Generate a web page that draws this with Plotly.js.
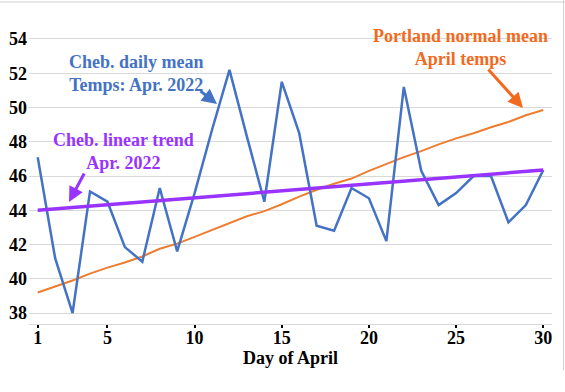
<!DOCTYPE html>
<html>
<head>
<meta charset="utf-8">
<script src="https://cdn.plot.ly/plotly-3.0.1.min.js"></script>
<style>html,body{margin:0;padding:0;background:#fff;}#chart{width:565px;height:392px;}</style>
</head>
<body>
<div id="chart"></div>
<script>
const days = [1,2,3,4,5,6,7,8,9,10,11,12,13,14,15,16,17,18,19,20,21,22,23,24,25,26,27,28,29,30];
const chebDaily = [47.1,41.2,38.0,45.1,44.5,41.85,41.0,45.3,41.6,45.0,48.7,52.2,48.3,44.5,51.5,48.5,43.1,42.8,45.3,44.7,42.2,51.2,46.3,44.3,45.0,46.0,46.0,43.3,44.3,46.35];
const portlandNormal = [39.2,39.55,39.9,40.3,40.65,40.95,41.3,41.75,42.05,42.45,42.85,43.25,43.65,43.95,44.35,44.8,45.2,45.55,45.85,46.3,46.7,47.1,47.45,47.85,48.2,48.5,48.85,49.15,49.55,49.85];
const trendDays = [1,30];
const chebTrend = [44.0,46.35];
const xTickVals = [1,5,10,15,20,25,30];
const xTickText = ['1','5','10','15','20','25','30'];
const yTickVals = [38,40,42,44,46,48,50,52,54];

const serif = 'Liberation Serif';
const blue = '#4472C4', orange = '#ED7D31', purple = '#9933FF', orangeText = '#F26A1E';

const traces = [
  {x: days, y: portlandNormal, mode: 'lines', line: {color: orange, width: 2}, hoverinfo: 'skip'},
  {x: days, y: chebDaily, mode: 'lines', line: {color: blue, width: 2.5}, hoverinfo: 'skip'},
  {x: trendDays, y: chebTrend, mode: 'lines', line: {color: purple, width: 3.5}, hoverinfo: 'skip'}
];

// plot area in pixels: left 29, right 552, top 15, bottom 324
const px = v => (v - 29) / 523;
const py = v => (324 - v) / 309;
function label(text, x, y, color) {
  return {xref: 'paper', yref: 'paper', x: px(x), y: py(y), text: '<b>' + text + '</b>', showarrow: false,
          font: {family: serif, size: 18, color: color}, align: 'center', xanchor: 'center', yanchor: 'middle', borderpad: 0};
}
function arrow(x0, y0, x1, y1, color) {
  return {xref: 'paper', yref: 'paper', x: px(x1), y: py(y1), ax: x0 - x1, ay: y0 - y1, text: '',
          showarrow: true, arrowhead: 2, arrowsize: 1, arrowwidth: 3, arrowcolor: color};
}

const layout = {
  width: 565, height: 392,
  margin: {l: 29, r: 13, t: 15, b: 68},
  paper_bgcolor: '#fff', plot_bgcolor: '#fff',
  showlegend: false,
  font: {family: serif, color: '#000'},
  xaxis: {
    range: [0.5, 30.5], tickvals: xTickVals, ticktext: xTickText,
    showgrid: false, zeroline: false,
    showline: true, linecolor: '#D9D9D9', linewidth: 1,
    ticks: 'outside', ticklen: 3, tickwidth: 2, tickcolor: '#000',
    tickfont: {family: serif, size: 18, color: '#000', weight: 'bold'},
    ticklabelstandoff: -6,
    title: {text: 'Day of April', font: {family: serif, size: 18, color: '#000', weight: 'bold'}, standoff: 0}
  },
  yaxis: {
    range: [37.36, 55.4], tickvals: yTickVals,
    showgrid: true, gridcolor: '#D9D9D9', gridwidth: 1,
    zeroline: false, showline: false, ticks: '',
    tickfont: {family: serif, size: 18, color: '#000', weight: 'bold'},
    ticklabelstandoff: 1
  },
  annotations: [
    label('Cheb. daily mean<br>Temps: Apr. 2022', 136, 73, blue),
    arrow(199, 90, 217, 104, blue),
    label('Cheb. linear trend<br>Apr. 2022', 123, 151, purple),
    arrow(85, 172, 69, 202, purple),
    label('Portland normal mean<br>April temps', 460, 48, orangeText),
    arrow(487, 68, 523, 108, orangeText)
  ],
  shapes: [
    {type: 'line', xref: 'paper', yref: 'paper', x0: px(0), x1: px(565), y0: py(2), y1: py(2), line: {color: '#D0D0D0', width: 1}},
    {type: 'line', xref: 'paper', yref: 'paper', x0: px(563.5), x1: px(563.5), y0: py(370), y1: py(0), line: {color: '#D0D0D0', width: 1}}
  ]
};

Plotly.newPlot('chart', traces, layout, {displayModeBar: false, staticPlot: true});
</script>
</body>
</html>
